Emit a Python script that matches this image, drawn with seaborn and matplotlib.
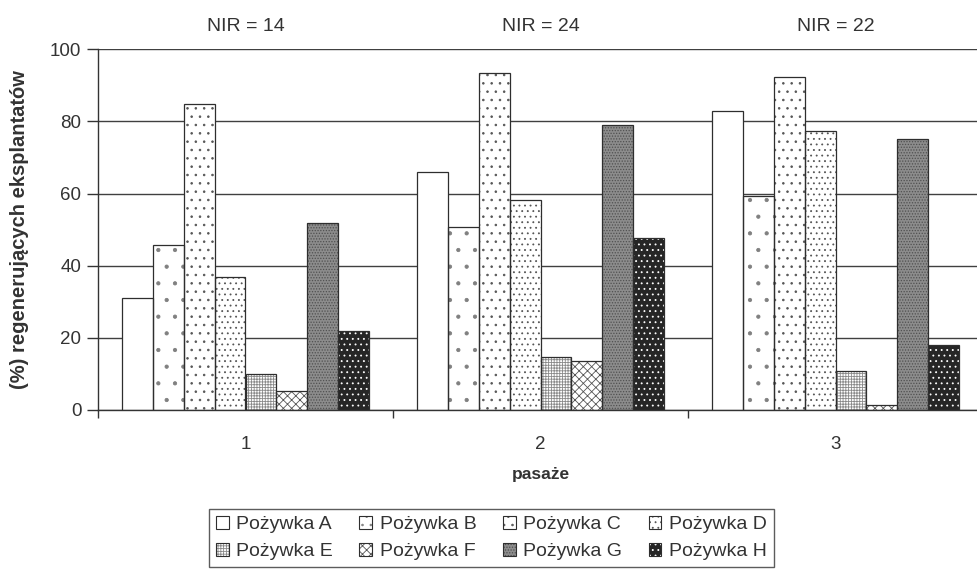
import matplotlib
matplotlib.use("Agg")
import matplotlib.pyplot as plt
import seaborn as sns
import pandas as pd
from matplotlib.patches import Rectangle, Patch
from matplotlib.ticker import FixedLocator

# Passages and culture media
passages = ["1", "2", "3"]
media = ["Pożywka A", "Pożywka B", "Pożywka C", "Pożywka D",
         "Pożywka E", "Pożywka F", "Pożywka G", "Pożywka H"]

# Percentage of regenerating explants per medium, passages 1-3
val_A = [31.1, 66.0, 82.8]
val_B = [45.7, 50.8, 59.3]
val_C = [84.8, 93.3, 92.2]
val_D = [36.8, 58.2, 77.3]
val_E = [10.0, 14.6, 10.7]
val_F = [5.4, 13.7, 1.3]
val_G = [51.9, 79.1, 75.2]
val_H = [22.0, 47.7, 18.1]

# Least significant difference per passage
nir_labels = ["NIR = 14", "NIR = 24", "NIR = 22"]

values = [val_A, val_B, val_C, val_D, val_E, val_F, val_G, val_H]
df = pd.DataFrame({
    "pasaz": [p for _ in media for p in passages],
    "pozywka": [m for m in media for _ in passages],
    "proc": [v for vals in values for v in vals],
})

# fill colour, hatch pattern, hatch colour for each medium
styles = [
    ("white", "", "#333333"),
    ("white", ".", "#808080"),
    ("white", "..", "#555555"),
    ("white", "...", "#555555"),
    ("white", "++++++", "#8a8a8a"),
    ("white", "xxxx", "#555555"),
    ("#8c8c8c", "......", "#505050"),
    ("#262626", "...", "white"),
]

sns.set_theme(style="white")
plt.rcParams["font.family"] = ["Liberation Sans", "DejaVu Sans"]
plt.rcParams["hatch.linewidth"] = 0.6

fig = plt.figure(figsize=(9.77, 5.79), dpi=100)
ax = fig.add_axes([98 / 977, 1 - 410 / 579, 885 / 977, (410 - 49.3) / 579])

sns.barplot(data=df, x="pasaz", y="proc", hue="pozywka", order=passages,
            hue_order=media, width=0.834, gap=0, dodge=True,
            palette=["white"] * len(media), edgecolor="#333333",
            linewidth=0.9, legend=False, ax=ax, zorder=2)

outline = "#2e2e2e"
for cont, (fc, hatch, hc) in zip(ax.containers, styles):
    for bar in cont:
        bar.set_facecolor(fc)
        bar.set_hatch(hatch)
        bar.set_edgecolor(hc)
        bar.set_linewidth(0)
        ax.add_patch(Rectangle(bar.get_xy(), bar.get_width(), bar.get_height(),
                               fill=False, edgecolor=outline, linewidth=0.9,
                               zorder=3))

ax.set_ylim(0, 100)
ax.set_xlim(-0.5, 2.5)
ax.set_yticks([0, 20, 40, 60, 80, 100])
ax.yaxis.grid(True, color="#404040", linewidth=1.0, zorder=0)
ax.set_axisbelow(True)
for s in ["top", "right"]:
    ax.spines[s].set_visible(False)
ax.spines["left"].set_color("#333333")
ax.spines["bottom"].set_color("#333333")
ax.spines["left"].set_linewidth(1.0)
ax.spines["bottom"].set_linewidth(1.0)

ax.tick_params(axis="y", direction="out", length=8, width=1.0, color="#333333",
               labelsize=13.5, labelcolor="#333333", left=True, pad=4)
ax.tick_params(axis="x", which="major", length=0, labelsize=13.5,
               labelcolor="#333333", pad=19)
ax.xaxis.set_minor_locator(FixedLocator([-0.5, 0.5, 1.5]))
ax.tick_params(axis="x", which="minor", direction="out", length=6,
               width=1.0, color="#333333", bottom=True)

ax.set_xlabel("pasaże", fontsize=12.5, fontweight="bold", color="#333333",
              labelpad=10)
ax.set_ylabel("(%) regenerujących eksplantatów", fontsize=14.5,
              fontweight="bold", color="#333333", labelpad=15)

for i, lab in enumerate(nir_labels):
    ax.text(i, 1.064, lab, transform=ax.get_xaxis_transform(), ha="center",
            va="center", fontsize=14, color="#333333")

# legend swatches are tiny, so the sparse dot pattern is doubled there
legend_hatch = [h if h != "." else ".." for _, h, _ in styles]
handles = [(Patch(facecolor=fc, hatch=lh, edgecolor=hc, linewidth=0),
            Patch(fill=False, edgecolor=outline, linewidth=0.8))
           for (fc, _, hc), lh in zip(styles, legend_hatch)]
# legend filled row by row: A B C D / E F G H
order = [0, 4, 1, 5, 2, 6, 3, 7]
leg = fig.legend([handles[i] for i in order], [media[i] for i in order],
                 loc="center", bbox_to_anchor=(0.503, 0.071),
                 ncol=4, fontsize=14, frameon=True, fancybox=False,
                 edgecolor="#333333", handlelength=0.65, handleheight=0.65,
                 handletextpad=0.4, columnspacing=1.35, borderpad=0.35,
                 labelspacing=0.5)
leg.get_frame().set_linewidth(1.0)
for t in leg.get_texts():
    t.set_color("#333333")

fig.savefig("out.png", dpi=100, facecolor="white")
